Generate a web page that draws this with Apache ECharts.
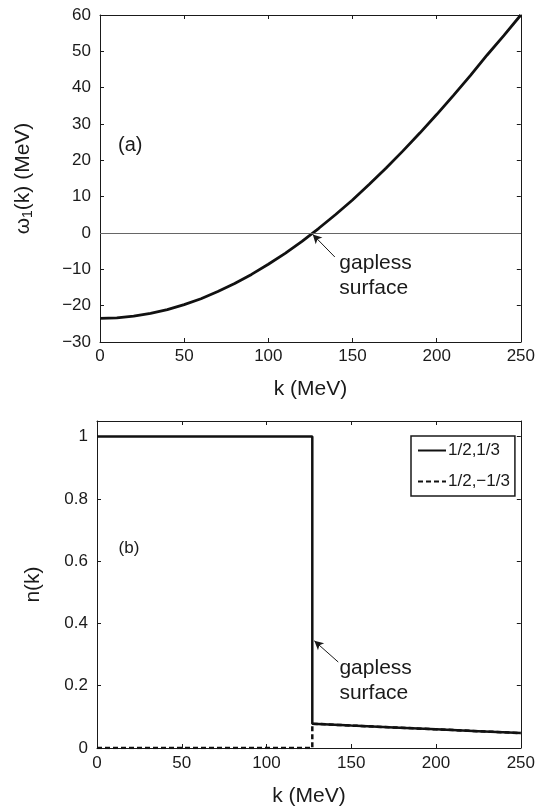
<!DOCTYPE html>
<html>
<head>
<meta charset="utf-8">
<script src="https://cdn.jsdelivr.net/npm/echarts@6/dist/echarts.min.js"></script>
<style>
  html, body { margin: 0; padding: 0; background: #fff; }
  #chart { width: 538px; height: 808px; }
</style>
</head>
<body>
<div id="chart"></div>
<script>
// (a) quasiparticle dispersion omega_1(k), MeV
const kDisp = [0, 10, 20, 30, 40, 50, 60, 70, 80, 90, 100, 110, 120, 130, 140, 150, 160, 170, 180, 190, 200, 210, 220, 230, 240, 250];
const omega1 = [-23.5, -23.35, -22.9, -22.1, -21.1, -19.7, -18.1, -16.1, -13.9, -11.4, -8.6, -5.6, -2.3, 1.3, 5.1, 9.1, 13.4, 17.9, 22.6, 27.5, 32.6, 37.9, 43.3, 49.0, 54.4, 60.0];

// (b) occupation numbers n(k)
const kOcc = [0, 127, 127, 150, 175, 200, 225, 250];
const nPlus = [1, 1, 0.078, 0.072, 0.066, 0.060, 0.054, 0.048];   // 1/2, 1/3
const nMinus = [0, 0, 0.078, 0.072, 0.066, 0.060, 0.054, 0.048];  // 1/2, -1/3
const seriesNames = ['1/2,1/3', '1/2,\u22121/3'];

const xTicks = { min: 0, max: 250, interval: 50 };
const yTicksA = { min: -30, max: 60, interval: 10 };
const yTicksB = { min: 0, max: 1.05, interval: 0.2 };

const FONT = "'Liberation Sans', Arial, Helvetica, sans-serif";
const INK = '#1a1a1a';

const zip = (xs, ys) => xs.map((x, i) => [x, ys[i]]);
const minus = v => String(v).replace('-', '\u2212');

function axisBase(extra) {
  return Object.assign({
    type: 'value',
    axisLine: { show: true, onZero: false, lineStyle: { color: INK, width: 1 } },
    axisTick: { show: true, inside: true, length: 4, lineStyle: { color: INK, width: 1 } },
    splitLine: { show: false },
    axisLabel: { show: true, color: INK, fontFamily: FONT, fontSize: 17 }
  }, extra);
}
function mirror(extra) {
  const a = axisBase(extra);
  a.axisLabel = { show: false };
  return a;
}

const chart = echarts.init(document.getElementById('chart'), null, { renderer: 'canvas' });

const option = {
  animation: false,
  backgroundColor: '#fff',
  color: ['#111', '#111', '#111'],
  grid: [
    { left: 100, right: 17, top: 15, height: 327 },
    { left: 97, right: 17, top: 421, height: 327 }
  ],
  xAxis: [
    axisBase(Object.assign({ gridIndex: 0, position: 'bottom', name: 'k (MeV)', nameLocation: 'middle', nameGap: 37,
      nameTextStyle: { color: INK, fontFamily: FONT, fontSize: 21 } }, xTicks,
      { axisLabel: { color: INK, fontFamily: FONT, fontSize: 17, margin: 6 } })),
    mirror(Object.assign({ gridIndex: 0, position: 'top' }, xTicks)),
    axisBase(Object.assign({ gridIndex: 1, position: 'bottom', name: 'k (MeV)', nameLocation: 'middle', nameGap: 38,
      nameTextStyle: { color: INK, fontFamily: FONT, fontSize: 21 } }, xTicks,
      { axisLabel: { color: INK, fontFamily: FONT, fontSize: 17, margin: 7 } })),
    mirror(Object.assign({ gridIndex: 1, position: 'top' }, xTicks))
  ],
  yAxis: [
    axisBase(Object.assign({ gridIndex: 0, position: 'left', nameLocation: 'middle', nameRotate: 90, nameGap: 65,
      name: '{m|\u03c9}{s|1}{m|(k) (MeV)}',
      nameTextStyle: { color: INK, fontFamily: FONT, fontSize: 21,
        rich: { m: { fontSize: 21, fontFamily: FONT, color: INK }, s: { fontSize: 14, fontFamily: FONT, color: INK, padding: [10, 0, 0, 0] } } } },
      yTicksA, { axisLabel: { color: INK, fontFamily: FONT, fontSize: 17, margin: 9, formatter: v => minus(v) } })),
    mirror(Object.assign({ gridIndex: 0, position: 'right' }, yTicksA)),
    axisBase(Object.assign({ gridIndex: 1, position: 'left', name: 'n(k)', nameLocation: 'middle', nameRotate: 90, nameGap: 53,
      nameTextStyle: { color: INK, fontFamily: FONT, fontSize: 21 } }, yTicksB,
      { axisLabel: { color: INK, fontFamily: FONT, fontSize: 17, margin: 9,
        formatter: v => (Math.abs(v * 5 - Math.round(v * 5)) < 1e-6 ? String(Math.round(v * 10) / 10) : '') } })),
    mirror(Object.assign({ gridIndex: 1, position: 'right' }, yTicksB))
  ],
  legend: {
    data: seriesNames,
    orient: 'vertical',
    left: 411, top: 436,
    itemWidth: 28, itemHeight: 12, itemGap: 14,
    padding: [6, 5, 6, 6],
    borderColor: INK, borderWidth: 1.5,
    backgroundColor: '#fff',
    itemStyle: { opacity: 0 },
    lineStyle: { color: '#111' },
    textStyle: { color: INK, fontFamily: FONT, fontSize: 17, padding: [0, 0, 0, -3] },
    selectedMode: false
  },
  series: [
    {
      type: 'line', xAxisIndex: 0, yAxisIndex: 0, data: zip(kDisp, omega1),
      symbol: 'none', smooth: false,
      itemStyle: { color: '#111' },
      lineStyle: { color: '#111', width: 2.8 },
      z: 3,
      markLine: {
        silent: true, symbol: 'none', animation: false,
        label: { show: false },
        data: [
          { yAxis: 0, lineStyle: { color: '#666', width: 1, type: 'solid' } },
          [
            { coord: [139.5, -6.6], symbol: 'none', lineStyle: { color: INK, width: 1, type: 'solid' } },
            { coord: [126.4, -0.4], symbol: 'arrow', symbolSize: [7, 9] }
          ]
        ]
      }
    },
    {
      name: seriesNames[1],
      type: 'line', xAxisIndex: 2, yAxisIndex: 2, data: zip(kOcc, nMinus),
      symbol: 'none',
      itemStyle: { color: '#111' },
      lineStyle: { color: '#111', width: 2.5, type: [5, 3] },
      z: 2
    },
    {
      name: seriesNames[0],
      type: 'line', xAxisIndex: 2, yAxisIndex: 2, data: zip(kOcc, nPlus),
      symbol: 'none',
      itemStyle: { color: '#111' },
      lineStyle: { color: '#111', width: 2.5, type: 'solid' },
      z: 3,
      markLine: {
        silent: true, symbol: 'none', animation: false,
        label: { show: false },
        data: [
          [
            { coord: [142.3, 0.276], symbol: 'none', lineStyle: { color: INK, width: 1, type: 'solid' } },
            { coord: [128.2, 0.344], symbol: 'arrow', symbolSize: [7, 9] }
          ]
        ]
      }
    }
  ]
};
chart.setOption(option);

// Panel tags and "gapless surface" notes, placed in data coordinates
function place(gridIndex, pt) {
  return chart.convertToPixel({ xAxisIndex: gridIndex * 2, yAxisIndex: gridIndex * 2 }, pt);
}
const tagA = place(0, [10.7, 24.1]);
const tagB = place(1, [12.7, 0.640]);
const noteA = place(0, [142.2, -4.9]);
const noteB = place(1, [143.0, 0.296]);
const textEl = (p, text, size, vAlign, lh) => ({
  type: 'text', x: p[0], y: p[1], silent: true,
  style: { text: text, fill: INK, font: size + 'px ' + FONT, verticalAlign: vAlign, align: 'left', lineHeight: lh || size }
});
chart.setOption({
  graphic: [
    textEl(tagA, '(a)', 20, 'middle'),
    textEl(tagB, '(b)', 17, 'middle'),
    textEl(noteA, 'gapless\nsurface', 21, 'top', 25),
    textEl(noteB, 'gapless\nsurface', 21, 'top', 25)
  ]
});
</script>
</body>
</html>
